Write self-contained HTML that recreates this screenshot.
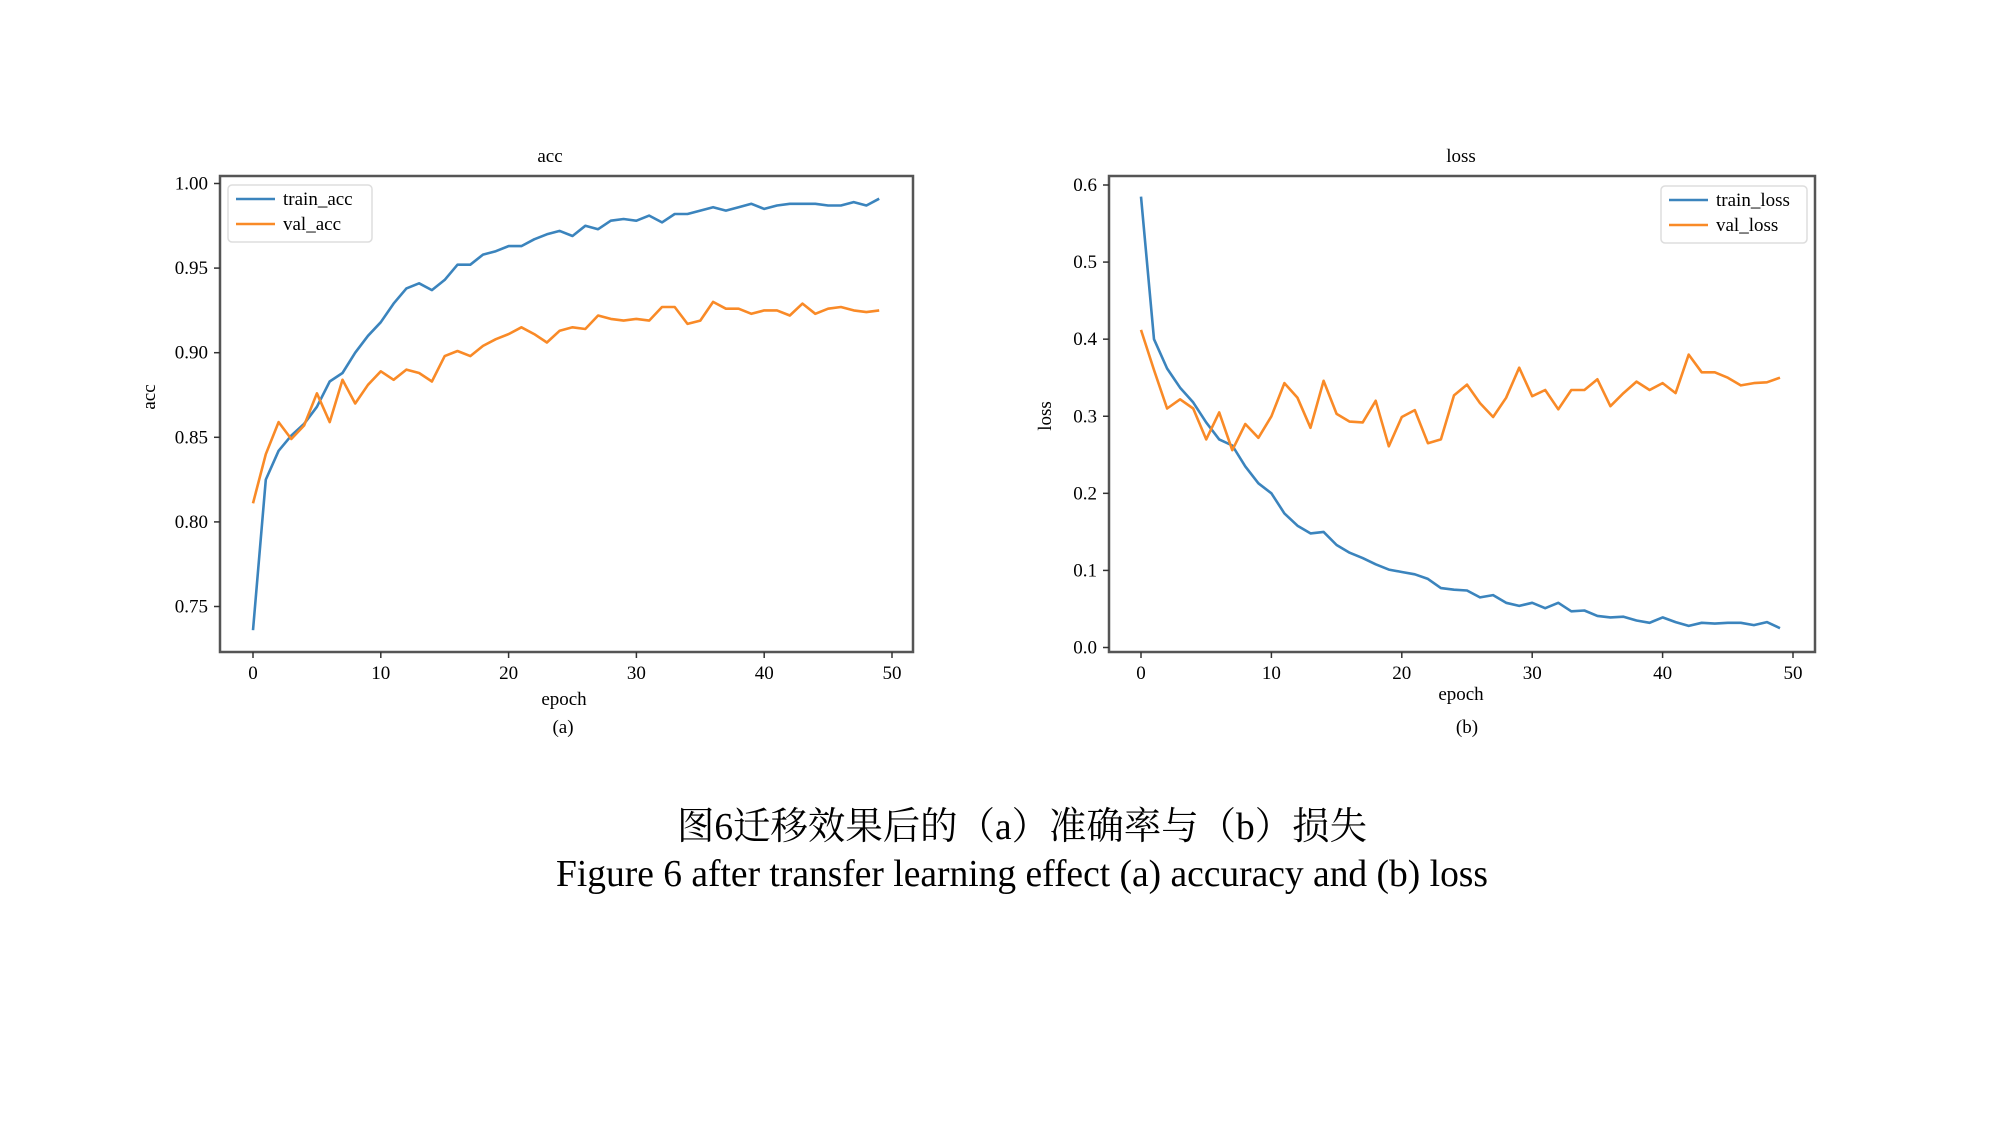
<!DOCTYPE html>
<html><head><meta charset="utf-8">
<style>
html,body{margin:0;padding:0;background:#fff;}
svg{display:block;}
text{font-family:"Liberation Serif","Noto Serif CJK SC","Noto Sans CJK SC",serif;fill:#000;}
</style></head>
<body>
<svg id="fig" width="1999" height="1124" viewBox="0 0 1999 1124" xmlns="http://www.w3.org/2000/svg">
<rect width="1999" height="1124" fill="#fff"/>
<g id="plotA"></g>
<g id="plotB"></g>
<text x="1022" y="839" font-size="38" text-anchor="middle" textLength="690" lengthAdjust="spacingAndGlyphs">图6迁移效果后的（a）准确率与（b）损失</text>
<text x="1022" y="886" font-size="38" text-anchor="middle" textLength="932" lengthAdjust="spacingAndGlyphs">Figure 6 after transfer learning effect (a) accuracy and (b) loss</text>
</svg>
<script>
const epochTicks = [0,10,20,30,40,50];
const accTicks = [0.75,0.80,0.85,0.90,0.95,1.00];
const lossTicks = [0.0,0.1,0.2,0.3,0.4,0.5,0.6];
const trainAcc = [0.736,0.825,0.842,0.851,0.858,0.868,0.883,0.888,0.900,0.910,0.918,0.929,0.938,0.941,0.937,0.943,0.952,0.952,0.958,0.960,0.963,0.963,0.967,0.970,0.972,0.969,0.975,0.973,0.978,0.979,0.978,0.981,0.977,0.982,0.982,0.984,0.986,0.984,0.986,0.988,0.985,0.987,0.988,0.988,0.988,0.987,0.987,0.989,0.987,0.991];
const valAcc = [0.811,0.840,0.859,0.849,0.857,0.876,0.859,0.884,0.870,0.881,0.889,0.884,0.890,0.888,0.883,0.898,0.901,0.898,0.904,0.908,0.911,0.915,0.911,0.906,0.913,0.915,0.914,0.922,0.920,0.919,0.920,0.919,0.927,0.927,0.917,0.919,0.930,0.926,0.926,0.923,0.925,0.925,0.922,0.929,0.923,0.926,0.927,0.925,0.924,0.925];
const trainLoss = [0.585,0.400,0.362,0.337,0.318,0.292,0.270,0.262,0.235,0.213,0.200,0.174,0.158,0.148,0.150,0.133,0.123,0.116,0.108,0.101,0.098,0.095,0.089,0.077,0.075,0.074,0.065,0.068,0.058,0.054,0.058,0.051,0.058,0.047,0.048,0.041,0.039,0.040,0.035,0.032,0.039,0.033,0.028,0.032,0.031,0.032,0.032,0.029,0.033,0.025];
const valLoss = [0.412,0.360,0.310,0.322,0.310,0.270,0.305,0.256,0.290,0.272,0.300,0.343,0.324,0.285,0.346,0.303,0.293,0.292,0.320,0.261,0.299,0.308,0.265,0.270,0.327,0.341,0.317,0.299,0.324,0.363,0.326,0.334,0.309,0.334,0.334,0.348,0.313,0.330,0.345,0.334,0.343,0.330,0.380,0.357,0.357,0.350,0.340,0.343,0.344,0.350];

const NS = "http://www.w3.org/2000/svg";
function mk(parent, tag, attrs, txt){
  const e = document.createElementNS(NS, tag);
  for (const k in attrs) e.setAttribute(k, attrs[k]);
  if (txt !== undefined) e.textContent = txt;
  parent.appendChild(e);
  return e;
}
function drawChart(g, cfg){
  const xS = v => cfg.x0 + (v - 0) * (cfg.x50 - cfg.x0) / 50;
  const yS = v => cfg.yA + (v - cfg.vA) * (cfg.yB - cfg.yA) / (cfg.vB - cfg.vA);
  const fr = mk(g, 'rect', {x:cfg.L, y:cfg.T, width:cfg.R-cfg.L, height:cfg.B-cfg.T, fill:'none', stroke:'#555', 'stroke-width':2.5});
  
  
  epochTicks.forEach(t => {
    const x = xS(t);
    const tk = mk(g, 'line', {x1:x, x2:x, y1:cfg.B, y2:cfg.B+6, stroke:'#333', 'stroke-width':1.5});
    
    
    const lb = mk(g, 'text', {x:x, y:cfg.B+27, 'font-size':19, 'text-anchor':'middle'}, String(t));
    
    
  });
  cfg.yTicks.forEach(t => {
    const y = yS(t);
    const tk = mk(g, 'line', {x1:cfg.L-6, x2:cfg.L, y1:y, y2:y, stroke:'#333', 'stroke-width':1.5});
    
    
    const lb = mk(g, 'text', {x:cfg.L-12, y:y+6, 'font-size':19, 'text-anchor':'end'}, t.toFixed(cfg.dec));
    
    
  });
  const colors = ['#3b84bd', '#f98a27'];
  cfg.series.forEach((s, i) => {
    const d = s.map((v, j) => (j ? 'L' : 'M') + xS(j).toFixed(1) + ' ' + yS(v).toFixed(1)).join(' ');
    const p = mk(g, 'path', {d:d, fill:'none', stroke:colors[i], 'stroke-width':2.6, 'stroke-linejoin':'round'});
    
    
  });
  const t1 = mk(g, 'text', {x:cfg.tx, y:cfg.T-14, 'font-size':19, 'text-anchor':'middle'}, cfg.title);
  
  
  const xl = mk(g, 'text', {x:cfg.xlx, y:cfg.xly, 'font-size':19, 'text-anchor':'middle'}, 'epoch');
  
  
  const yl = mk(g, 'text', {x:0, y:0, 'font-size':19, 'text-anchor':'middle', transform:'translate('+cfg.ylx+','+cfg.yly+') rotate(-90)'}, cfg.title);
  
  
  const sub = mk(g, 'text', {x:cfg.subx, y:cfg.suby, 'font-size':19, 'text-anchor':'middle'}, cfg.sub);
  
  
  const lg = mk(g, 'g', {});
  
  
  mk(lg, 'rect', {x:cfg.lgx, y:cfg.lgy, width:cfg.lgw, height:57, rx:4, fill:'#fff', stroke:'#ddd', 'stroke-width':1.5});
  cfg.names.forEach((n, i) => {
    const yy = cfg.lgy + 14 + i*25;
    const ln = mk(lg, 'line', {x1:cfg.lgx+8, x2:cfg.lgx+47, y1:yy, y2:yy, stroke:colors[i], 'stroke-width':2.6});
    
    
    const tx = mk(lg, 'text', {x:cfg.lgx+55, y:yy+6, 'font-size':19}, n);
    
    
  });
}
drawChart(document.getElementById('plotA'), {
  L:220, R:913, T:176, B:652, x0:253, x50:892, yA:183.5, vA:1.00, yB:606.5, vB:0.75,
  yTicks:accTicks, dec:2, series:[trainAcc, valAcc], names:['train_acc','val_acc'], title:'acc', tx:550,
  xlx:564, xly:705, ylx:155, yly:397, subx:563, suby:733, sub:'(a)', lgx:228, lgy:185, lgw:144
});
drawChart(document.getElementById('plotB'), {
  L:1109, R:1815, T:176, B:652, x0:1141, x50:1793, yA:185, vA:0.6, yB:647.5, vB:0.0,
  yTicks:lossTicks, dec:1, series:[trainLoss, valLoss], names:['train_loss','val_loss'], title:'loss', tx:1461,
  xlx:1461, xly:700, ylx:1051, yly:416, subx:1467, suby:733, sub:'(b)', lgx:1661, lgy:186, lgw:146
});
</script>
</body></html>
